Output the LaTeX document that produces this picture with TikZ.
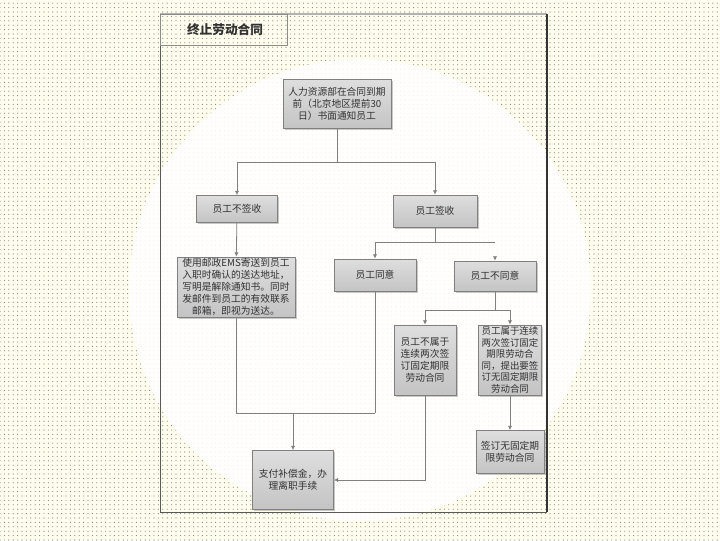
\documentclass[tikz,border=0pt]{standalone}
\usepackage{fontspec}
\setmainfont{Noto Sans CJK SC}
\usetikzlibrary{arrows.meta,shadows,patterns.meta}
\definecolor{bgcream}{RGB}{255,253,238}
\definecolor{dotc}{RGB}{130,130,105}
\definecolor{linec}{RGB}{128,128,128}
\definecolor{txtc}{RGB}{50,50,50}
\definecolor{boxtop}{RGB}{222,222,222}
\definecolor{boxbot}{RGB}{196,196,196}
\tikzset{
  flowbox/.style={draw=linec, line width=0.6pt, top color=boxtop, bottom color=boxbot,
    drop shadow={shadow xshift=1.2pt, shadow yshift=-1.2pt, fill=black!35, opacity=0.6},
    text=txtc, font=\fontsize{7.3}{9}\selectfont, align=center, inner sep=1pt},
  conn/.style={draw=linec, line width=0.6pt},
  arr/.style={conn, -{Latex[length=3.2pt,width=3.2pt]}},
}
\begin{document}
\begin{tikzpicture}[x=0.75pt,y=-0.75pt]
\useasboundingbox (0,0) rectangle (720,540);
% background
\fill[bgcream] (0,0) rectangle (720,540);
\fill[pattern={Dots[distance=3.3pt,radius=0.42pt]}, pattern color=dotc] (0,0) rectangle (720,540);
\fill[white, fill opacity=0.88] (360,290) circle[radius=231];
% frame
\draw[color=black!30, line width=0.8pt] (160,14) -- (547,14);
\draw[color=black!65, line width=0.7pt] (160,14) -- (160,512) -- (547,512);
\draw[color=black!80, line width=1.4pt] (547,14) -- (547,512);
\draw[color=black!45, line width=0.7pt] (160,14) rectangle (287,45);
\node[font=\fontsize{9.5}{11}\selectfont\bfseries, text=txtc] (title) at (225,30) {终止劳动合同};
% nodes
\node[flowbox, minimum width=81pt, minimum height=36.75pt] (top) at (337,104)
  {人力资源部在合同到期\\前（北京地区提前30\\日）书面通知员工};
\node[flowbox, minimum width=60.75pt, minimum height=20.25pt] (nq) at (237,209) {员工不签收};
\node[flowbox, minimum width=63pt, minimum height=24pt] (qs) at (435,211) {员工签收};
\node[flowbox, minimum width=61.5pt, minimum height=24pt] (ty) at (375,275) {员工同意};
\node[flowbox, minimum width=61.5pt, minimum height=22.5pt] (bty) at (495,276) {员工不同意};
\node[flowbox, minimum width=88.5pt, minimum height=45pt] (ems) at (236,287)
  {使用邮政EMS寄送到员工\\入职时确认的送达地址，\\写明是解除通知书。同时\\发邮件到员工的有效联系\\邮箱，即视为送达。};
\node[flowbox, minimum width=46.5pt, minimum height=52.5pt] (bsy) at (425,360)
  {员工不属于\\连续两次签\\订固定期限\\劳动合同};
\node[flowbox, minimum width=47.25pt, minimum height=52.5pt, font=\fontsize{7.1}{8.6}\selectfont] (sy) at (510,360)
  {员工属于连续\\两次签订固定\\期限劳动合\\同，提出要签\\订无固定期限\\劳动合同};
\node[flowbox, minimum width=51pt, minimum height=32.25pt] (wx) at (510,452)
  {签订无固定期\\限劳动合同};
\node[flowbox, minimum width=60.75pt, minimum height=44.25pt] (pay) at (293,480)
  {支付补偿金，办\\理离职手续};
% junctions
\coordinate (j1) at (337,162);
\coordinate (j2) at (435,242);
\coordinate (j3) at (495,242);
\coordinate (j4) at (375,413);
\coordinate (j5) at (293,413);
\coordinate (j6) at (495,310);
% connectors
\draw[conn] (top) -- (j1);
\draw[arr] (j1) -| (nq);
\draw[arr] (j1) -| (qs);
\draw[conn] (qs) -- (j2);
\draw[arr] (j2) -| (ty);
\draw[conn] (j2) -- (j3);
\draw[draw=white, line width=0.6pt, -{Latex[length=3.2pt,width=3.2pt,color=linec]}] (j3) -- (bty);
\draw[arr] (nq) -- (ems);
\draw[conn] (ems) |- (j4);
\draw[conn] (j4) -- (ty);
\draw[arr] (j5) -- (pay);
\draw[conn] (bty) -- (j6);
\draw[arr] (j6) -| (bsy);
\draw[arr] (j6) -| (sy);
\draw[arr] (bsy) |- (pay);
\draw[arr] (sy) -- (wx);
\end{tikzpicture}
\end{document}
